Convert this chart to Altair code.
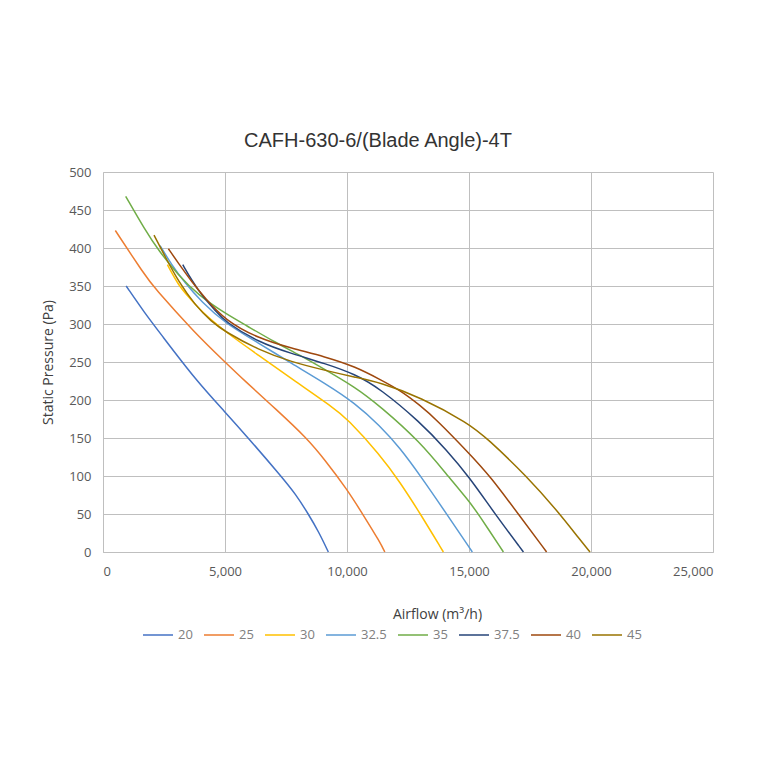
import altair as alt
import pandas as pd

angles = ["20", "25", "30", "32.5", "35", "37.5", "40", "45"]
colors = ["#4472C4", "#ED7D31", "#FFC000", "#5B9BD5", "#70AD47", "#264478", "#9E480E", "#997300"]

s20_x = [950, 1720, 2340, 3810, 5010, 5955, 7320, 7900, 8415, 8850, 9235]
s20_y = [350, 314, 288, 226, 184, 150, 99, 76, 50, 26, 0]

s25_x = [505, 1720, 2063, 3770, 5000, 5780, 7120, 8350, 9100, 9990, 10700, 11350, 11550]
s25_y = [423, 364, 349, 288, 250, 226, 187, 150, 121, 83, 47, 13, 0]

s30_x = [2640, 3090, 3500, 4040, 5000, 6370, 7730, 9440, 9990, 11352, 12170, 12992, 13950]
s30_y = [378, 351, 336, 316, 290, 259, 228, 190, 176, 128, 92, 51, 0]

s325_x = [2340, 2810, 3360, 4040, 5000, 6370, 7730, 9100, 10330, 11352, 12170, 12992, 14085, 15137]
s325_y = [403, 378, 354, 329, 301, 275, 248, 222, 196, 166, 137, 101, 50, 0]

s35_x = [930, 1720, 2270, 3090, 3910, 5000, 5820, 7050, 8070, 9100, 10330, 11352, 12992, 14085, 15000, 15382, 16410]
s35_y = [468, 424, 397, 364, 338, 314, 299, 276, 259, 240, 217, 192, 145, 102, 67, 50, 0]

s375_x = [3270, 3630, 4040, 4590, 5000, 6370, 7730, 9100, 10330, 11352, 12992, 14090, 15000, 16066, 17230]
s375_y = [378, 358, 338, 318, 303, 276, 261, 248, 234, 215, 171, 134, 99, 50, 0]

s40_x = [2680, 3090, 3630, 4180, 5000, 6370, 7730, 9100, 10330, 11352, 12170, 12992, 13675, 15000, 15860, 17020, 18180]
s40_y = [399, 380, 356, 334, 305, 281, 268, 257, 244, 227, 213, 193, 174, 130, 100, 50, 0]

s45_x = [2090, 2540, 3090, 3770, 4450, 5000, 6370, 7730, 9100, 10330, 11352, 12992, 15000, 15724, 17363, 18730, 19550, 19960]
s45_y = [417, 389, 356, 325, 303, 290, 266, 250, 239, 230, 223, 204, 169, 150, 100, 50, 16, 0]

series = {
    "20": (s20_x, s20_y),
    "25": (s25_x, s25_y),
    "30": (s30_x, s30_y),
    "32.5": (s325_x, s325_y),
    "35": (s35_x, s35_y),
    "37.5": (s375_x, s375_y),
    "40": (s40_x, s40_y),
    "45": (s45_x, s45_y),
}

rows = []
for a in angles:
    xs, ys = series[a]
    for i, (x, y) in enumerate(zip(xs, ys)):
        rows.append({"angle": a, "airflow": x, "pressure": y, "order": i})
df = pd.DataFrame(rows)

label_font = "Open Sans"

chart = alt.Chart(df).mark_line(
    interpolate="basis", strokeWidth=1.5
).encode(
    x=alt.X(
        "airflow:Q",
        scale=alt.Scale(domain=[0, 25000], nice=False),
        axis=alt.Axis(
            values=[0, 5000, 10000, 15000, 20000, 25000],
            format=",.0f",
            title="Airflow (m³/h)",
            titleX=334,
            titleAlign="center",
            titlePadding=29,
            labelPadding=13,
        ),
    ),
    y=alt.Y(
        "pressure:Q",
        scale=alt.Scale(domain=[0, 500], nice=False),
        axis=alt.Axis(
            values=[0, 50, 100, 150, 200, 250, 300, 350, 400, 450, 500],
            title="Static Pressure (Pa)",
            titlePadding=13,
            labelPadding=12,
        ),
    ),
    color=alt.Color(
        "angle:N",
        scale=alt.Scale(domain=angles, range=colors),
        sort=angles,
        legend=alt.Legend(
            title=None,
            orient="none",
            direction="horizontal",
            legendX=39,
            legendY=447,
            symbolType="stroke",
            symbolSize=900,
            symbolStrokeWidth=1.5,
            labelOffset=4,
            columnPadding=8,
            labelFont=label_font,
            labelFontSize=13,
            labelColor="#808080",
        ),
    ),
    order="order:Q",
    detail="angle:N",
).properties(
    width=610,
    height=380,
    title=alt.TitleParams(
        "CAFH-630-6/(Blade Angle)-4T",
        font="Liberation Sans",
        fontSize=20,
        fontWeight="normal",
        color="#333333",
        offset=15,
        dx=-30,
    ),
    padding={"left": 95, "top": 164, "right": 39, "bottom": 200},
    autosize=alt.AutoSizeParams(type="none"),
).configure_view(
    stroke=None
).configure_axis(
    grid=True,
    gridColor="#BFBFBF",
    gridWidth=1,
    domainColor="#BFBFBF",
    ticks=False,
    labelFont=label_font,
    labelFontSize=13,
    labelColor="#595959",
    titleFont=label_font,
    titleFontSize=14,
    titleFontWeight="normal",
    titleColor="#404040",
)

chart.save("out.html", embed_options={"renderer": "svg", "actions": False})
